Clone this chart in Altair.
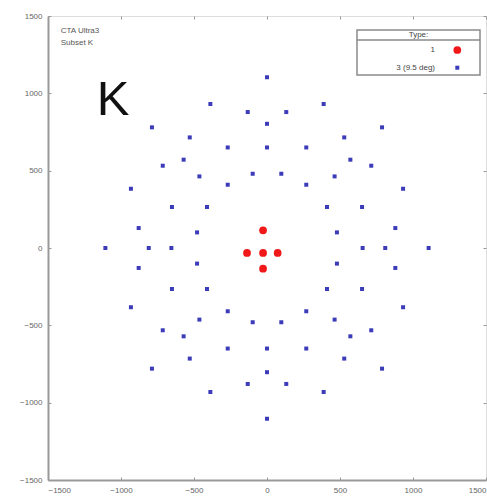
import altair as alt
import pandas as pd

# Telescope positions (m)
blue_x = [388, 132, 788, 529, 269, 571, 714, 463, 98, 269, 932, 651, 411, 879, 479,
          -388, -132, -788, -529, -269, -571, -714, -463, -98, -269, -932, -651, -411, -879, -479,
          -388, -132, -788, -529, -269, -571, -714, -463, -98, -269, -932, -651, -411, -879, -479,
          388, 132, 788, 529, 269, 571, 714, 463, 98, 269, 932, 651, 411, 879, 479,
          0, 0, 0, 0, 0, 0, 1107, 810, 655, -655, -810, -1107]
blue_y = [931, 879, 780, 715, 650, 571, 532, 463, 480, 409, 383, 265, 265, 129, 101,
          931, 879, 780, 715, 650, 571, 532, 463, 480, 409, 383, 265, 265, 129, 101,
          -931, -879, -780, -715, -650, -571, -532, -463, -480, -409, -383, -265, -265, -129, -101,
          -931, -879, -780, -715, -650, -571, -532, -463, -480, -409, -383, -265, -265, -129, -101,
          1104, 803, 650, -650, -803, -1104, 0, 0, 0, 0, 0, 0]
red_x = [-27, -137, -27, 73, -27]
red_y = [114, -32, -32, -32, -134]

legend_title = "Type:"
type_labels = ["1", "3 (9.5 deg)"]
type_colors = ["#f01818", "#3c3cb8"]
type_shapes = ["circle", "square"]
type_sizes = [60, 16]

ticks = [-1500, -1000, -500, 0, 500, 1000, 1500]

note_text = ["CTA Ultra3", "Subset K"]
note_x = [-1413, -1413]
note_y = [1400, 1327]

big_text = ["K"]
big_x = [-1166]
big_y = [959]

rows = []
for x, y in zip(red_x, red_y):
    rows.append({"x": x, "y": y, "type": type_labels[0]})
for x, y in zip(blue_x, blue_y):
    rows.append({"x": x, "y": y, "type": type_labels[1]})
df = pd.DataFrame(rows)

xscale = alt.Scale(domain=[-1500, 1500], nice=False, zero=False)
yscale = alt.Scale(domain=[-1500, 1500], nice=False, zero=False)

GRAY = "#999999"
label_axis = dict(values=ticks, format="d", grid=False, domainColor=GRAY,
                  domainWidth=2, ticks=False, labelFontSize=8, labelPadding=6,
                  labelColor="#666666", labelFont="Liberation Sans", title=None)


def tick_axis(orient):
    # inward ticks (gnuplot style): the tick-only axis is pulled 3 px inside the frame
    return alt.Axis(orient=orient, values=ticks, labels=False, domain=False, grid=False,
                    ticks=True, tickSize=3, tickColor=GRAY, tickWidth=1, offset=-3, title=None)


points = alt.Chart(df).mark_point(filled=True, opacity=1).encode(
    x=alt.X("x:Q", scale=xscale, axis=alt.Axis(**label_axis)),
    y=alt.Y("y:Q", scale=yscale, axis=alt.Axis(**label_axis)),
    color=alt.Color("type:N", scale=alt.Scale(domain=type_labels, range=type_colors), legend=None),
    shape=alt.Shape("type:N", scale=alt.Scale(domain=type_labels, range=type_shapes), legend=None),
    size=alt.Size("type:N", scale=alt.Scale(domain=type_labels, range=type_sizes), legend=None),
)

ticks_bl = alt.Chart(df).mark_point(opacity=0).encode(
    x=alt.X("x:Q", scale=xscale, axis=tick_axis("bottom")),
    y=alt.Y("y:Q", scale=yscale, axis=tick_axis("left")),
)
ticks_tr = alt.Chart(df).mark_point(opacity=0).encode(
    x=alt.X("x:Q", scale=xscale, axis=tick_axis("top")),
    y=alt.Y("y:Q", scale=yscale, axis=tick_axis("right")),
)

notes_df = pd.DataFrame({"t": note_text, "x": note_x, "y": note_y})
notes = alt.Chart(notes_df).mark_text(align="left", baseline="middle", fontSize=8,
                                      font="Liberation Sans", color="#555555").encode(
    x=alt.X("x:Q", scale=xscale, axis=None), y=alt.Y("y:Q", scale=yscale, axis=None), text="t:N")

big_df = pd.DataFrame({"t": big_text, "x": big_x, "y": big_y})
big = alt.Chart(big_df).mark_text(align="left", baseline="middle", fontSize=49,
                                  font="Liberation Sans", color="#111111").encode(
    x=alt.X("x:Q", scale=xscale, axis=None), y=alt.Y("y:Q", scale=yscale, axis=None), text="t:N")

# Legend box (gnuplot style: label right-aligned, symbol to its right)
LX0, LX1, LY0, LY1 = 309, 432, 14, 59
leg_box = alt.Chart(pd.DataFrame({"k": [0]})).mark_rect(
    fill="white", stroke="#8a8a8a", strokeWidth=1.5).encode(
    x=alt.value(LX0), x2=alt.value(LX1), y=alt.value(LY0), y2=alt.value(LY1))
leg_sep = alt.Chart(pd.DataFrame({"k": [0]})).mark_rule(
    color="#8a8a8a", strokeWidth=1.5).encode(
    x=alt.value(LX0), x2=alt.value(LX1), y=alt.value(LY0 + 10))
leg_title = alt.Chart(pd.DataFrame({"t": [legend_title]})).mark_text(
    align="center", baseline="middle", fontSize=8, font="Liberation Sans",
    color="#444444").encode(x=alt.value((LX0 + LX1) / 2), y=alt.value(LY0 + 5), text="t:N")

leg_layers = [leg_box, leg_sep, leg_title]
for i, lab in enumerate(type_labels):
    ry = LY0 + 20 + i * 17.7
    leg_layers.append(alt.Chart(pd.DataFrame({"t": [lab]})).mark_text(
        align="right", baseline="middle", fontSize=8, font="Liberation Sans",
        color="#444444").encode(x=alt.value(LX1 - 45), y=alt.value(ry), text="t:N"))
    leg_layers.append(alt.Chart(pd.DataFrame({"t": [lab]})).mark_point(
        filled=True, opacity=1, shape=type_shapes[i], size=type_sizes[i],
        color=type_colors[i]).encode(x=alt.value(LX1 - 22.7), y=alt.value(ry)))

chart = alt.layer(points, ticks_bl, ticks_tr, notes, big, *leg_layers).resolve_axis(
    x="independent", y="independent"
).properties(
    width=438, height=464,
    autosize=alt.AutoSizeParams(type="none"),
    padding={"left": 48, "top": 16, "right": 1, "bottom": 21},
).configure_view(stroke=GRAY, strokeWidth=2).configure(background="white")

chart.save("out.html", embed_options={"renderer": "svg", "actions": False})
